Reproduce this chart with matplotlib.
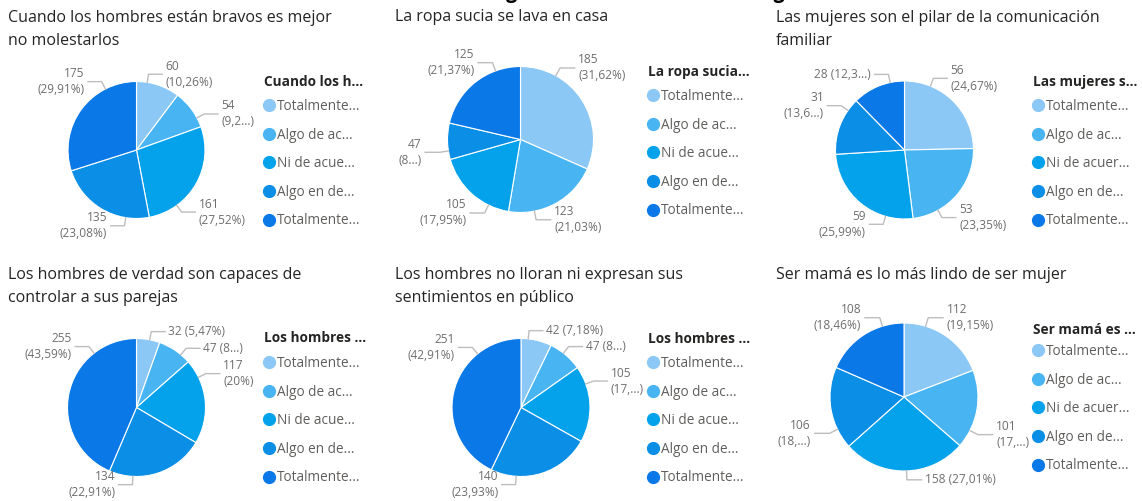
import matplotlib.pyplot as plt
import numpy as np
from matplotlib.lines import Line2D

plt.rcParams['font.family'] = ['Open Sans', 'DejaVu Sans']

W, H = 1142, 501

# chart data
titles = [
    "Cuando los hombres están bravos es mejor\nno molestarlos",
    "La ropa sucia se lava en casa",
    "Las mujeres son el pilar de la comunicación\nfamiliar",
    "Los hombres de verdad son capaces de\ncontrolar a sus parejas",
    "Los hombres no lloran ni expresan sus\nsentimientos en público",
    "Ser mamá es lo más lindo de ser mujer",
]
legend_titles = ["Cuando los h...", "La ropa sucia...", "Las mujeres s...",
                 "Los hombres ...", "Los hombres ...", "Ser mamá es ..."]

v1 = [60, 54, 161, 135, 175]
v2 = [185, 123, 105, 47, 125]
v3 = [56, 53, 59, 31, 28]
v4 = [32, 47, 117, 134, 255]
v5 = [42, 47, 105, 140, 251]
v6 = [112, 101, 158, 106, 108]
values = [v1, v2, v3, v4, v5, v6]

labels = [
    ["60\n(10,26%)", "54\n(9,2...)", "161\n(27,52%)", "135\n(23,08%)", "175\n(29,91%)"],
    ["185\n(31,62%)", "123\n(21,03%)", "105\n(17,95%)", "47\n(8...)", "125\n(21,37%)"],
    ["56\n(24,67%)", "53\n(23,35%)", "59\n(25,99%)", "31\n(13,6...)", "28 (12,3...)"],
    ["32 (5,47%)", "47 (8...)", "117\n(20%)", "134\n(22,91%)", "255\n(43,59%)"],
    ["42 (7,18%)", "47 (8...)", "105\n(17,...)", "140\n(23,93%)", "251\n(42,91%)"],
    ["112\n(19,15%)", "101\n(17,...)", "158 (27,01%)", "106\n(18,...)", "108\n(18,46%)"],
]

legend_labels = [
    ["Totalmente...", "Algo de ac...", "Ni de acue...", "Algo en de...", "Totalmente..."],
    ["Totalmente...", "Algo de ac...", "Ni de acue...", "Algo en de...", "Totalmente..."],
    ["Totalmente...", "Algo de ac...", "Ni de acuer...", "Algo en de...", "Totalmente..."],
    ["Totalmente...", "Algo de ac...", "Ni de acue...", "Algo en de...", "Totalmente..."],
    ["Totalmente...", "Algo de ac...", "Ni de acue...", "Algo en de...", "Totalmente..."],
    ["Totalmente...", "Algo de ac...", "Ni de acuer...", "Algo en de...", "Totalmente..."],
]

colors = ["#8CC8F6", "#48B5F2", "#05A2EC", "#0A8EE6", "#0A78E6"]

# layout in pixels: pie center/radius, title pos, legend title / first entry
pies = [(136.5, 150, 68.5), (520.5, 139.5, 73), (904.5, 150, 69),
        (136.5, 407.5, 69), (521, 407.5, 69), (904, 397, 74)]
title_pos = [(8, 10), (395, 9), (776, 10), (8, 267), (395, 267), (776, 267)]
legend_pos = [(264, 82, 99), (648, 72, 89), (1033, 82, 99),
              (264, 338, 356), (648, 339, 356), (1033, 330, 344)]
# where each data label leader starts (degrees clockwise from top), like Power BI places them
label_angle = [
    [9, 62, 144, 189, 333],
    [29, 169, 206, 261, 340],
    [22, 151, 196, 305, 348],
    [11, 40, 64, 183, 322],
    [6, 38, 70, 184, 321],
    [17, 117, 178, 244, 343],
]

fig = plt.figure(figsize=(W / 100, H / 100), dpi=100)
fig.patch.set_facecolor('white')

fig.text(0.508, 1 + 7 / H, "Medición del imaginario de hombre en Cartagena",
         ha='center', va='center', fontsize=14, fontweight='bold', color='black')

for i in range(6):
    cx, cy, r = pies[i]
    ax = fig.add_axes([(cx - r) / W, 1 - (cy + r) / H, 2 * r / W, 2 * r / H])
    wedges, _ = ax.pie(values[i], colors=colors, startangle=90, counterclock=False,
                       wedgeprops=dict(edgecolor='white', linewidth=0.8))
    ax.set_xlim(-1, 1)
    ax.set_ylim(-1, 1)
    ax.axis('off')

    for w, lab, a in zip(wedges, labels[i], label_angle[i]):
        ang = np.deg2rad(90 - a)
        c, s = np.cos(ang), np.sin(ang)
        side = 1 if c >= 0 else -1
        p0 = (1.0 * c, 1.0 * s)
        p1 = (1.12 * c, 1.12 * s)
        p2 = (p1[0] + side * 0.2, p1[1])
        ax.plot([p0[0], p1[0], p2[0]], [p0[1], p1[1], p2[1]], color='#BDBDBD',
                lw=1, clip_on=False)
        ax.text(p2[0] + side * 0.05, p2[1], lab, ha='left' if side > 0 else 'right',
                va='center', fontsize=8.6, color='#6E6E6E', linespacing=1.3,
                multialignment='left' if side > 0 else 'right')

    tx, ty = title_pos[i]
    fig.text(tx / W, 1 - ty / H, titles[i], ha='left', va='top', fontsize=11.5,
             color='#252423', linespacing=1.6)

    lx, lty, ly = legend_pos[i]
    fig.text(lx / W, 1 - lty / H, legend_titles[i], ha='left', va='center',
             fontsize=9.8, fontweight='bold', color='#252423')
    handles = [Line2D([], [], marker='o', ls='', markersize=8.5, color=col) for col in colors]
    fig.legend(handles, legend_labels[i], loc='upper left',
               bbox_to_anchor=((lx + 1) / W, 1 - ly / H), frameon=False, fontsize=9.8,
               labelcolor='#605E5C', borderpad=0, borderaxespad=0,
               handlelength=0.6, handletextpad=0.3, labelspacing=1.0)

fig.savefig('out.png', dpi=100)
